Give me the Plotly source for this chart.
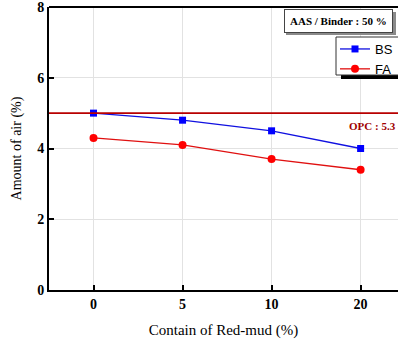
import plotly.graph_objects as go

categories = ["0", "5", "10", "20"]
bs_values = [5.0, 4.8, 4.5, 4.0]
fa_values = [4.3, 4.1, 3.7, 3.4]
opc_value = 5.0
y_ticks = [0, 2, 4, 6, 8]

W, H = 398, 347
ML, MT, MB, MR = 49, 7, 57, 0
pw, ph = W - ML - MR, H - MT - MB

def px(x):
    return (x - ML) / pw

def py(y):
    return (H - MB - y) / ph

serif = "Liberation Serif, Times New Roman, serif"
sans = "Liberation Sans, Arial, sans-serif"

fig = go.Figure()
fig.add_trace(go.Scatter(x=categories, y=bs_values, mode="lines+markers", name="BS",
                         line=dict(color="#1010E0", width=1.3),
                         marker=dict(symbol="square", size=7, color="#0000FF")))
fig.add_trace(go.Scatter(x=categories, y=fa_values, mode="lines+markers", name="FA",
                         line=dict(color="#E01010", width=1.3),
                         marker=dict(symbol="circle", size=8, color="#FF0000")))

fig.add_hline(y=opc_value, line=dict(color="#B80000", width=1.6))

# top border
fig.add_shape(type="line", xref="paper", yref="paper", x0=0, x1=1, y0=1, y1=1,
              line=dict(color="black", width=2))

# legend shadow + box
fig.add_shape(type="rect", xref="paper", yref="paper", x0=px(341), x1=1.02, y0=py(79), y1=py(42),
              line=dict(width=0), fillcolor="black", layer="above")
fig.add_shape(type="rect", xref="paper", yref="paper", x0=px(336), x1=1.02, y0=py(75), y1=py(37),
              line=dict(width=1, color="#333333"), fillcolor="white", layer="above")
# AAS box shadow
fig.add_shape(type="rect", xref="paper", yref="paper", x0=px(286), x1=px(396), y0=py(35), y1=py(12),
              line=dict(width=0), fillcolor="#8a8a8a", layer="above")

fig.add_annotation(xref="paper", yref="paper", x=px(338), y=py(20.5), xanchor="center", yanchor="middle",
                   text="<b>AAS / Binder : 50 %</b>", showarrow=False,
                   font=dict(family=serif, size=11, color="black"),
                   bgcolor="white", bordercolor="#444444", borderwidth=1, borderpad=5)
fig.add_annotation(xref="paper", yref="y", x=1.0, y=opc_value, xanchor="right", yanchor="top",
                   yshift=-5, text="<b>OPC : 5.3</b>", showarrow=False,
                   font=dict(family=serif, size=11, color="#A00000"))

fig.update_layout(
    width=W, height=H,
    margin=dict(l=ML, r=MR, t=MT, b=MB),
    paper_bgcolor="white", plot_bgcolor="white",
    showlegend=True,
    legend=dict(x=1.0, xanchor="right", y=py(34), yanchor="top",
                bgcolor="rgba(0,0,0,0)", borderwidth=0,
                font=dict(family=sans, size=13, color="black"),
                itemwidth=30, tracegroupgap=0),
    xaxis=dict(type="category", range=[-0.5, 3.42],
               showline=True, linecolor="black", linewidth=2,
               ticks="inside", ticklen=5, tickwidth=2, tickcolor="black",
               showgrid=True, gridcolor="#E2E2E2", gridwidth=1,
               tickfont=dict(family=serif, size=14, color="black"),
               title=dict(text="Contain of Red-mud (%)", font=dict(family=serif, size=15, color="black"), standoff=14),
               zeroline=False),
    yaxis=dict(range=[0, 8], tickvals=y_ticks, ticktext=[f"<b>{v}</b>" for v in y_ticks],
               showline=True, linecolor="black", linewidth=2,
               ticks="inside", ticklen=5, tickwidth=2, tickcolor="black",
               showgrid=True, gridcolor="#E2E2E2", gridwidth=1,
               tickfont=dict(family=serif, size=14, color="black"),
               ticklabeloverflow="allow",
               title=dict(text="Amount of air (%)", font=dict(family=serif, size=14, color="black"), standoff=12),
               zeroline=False),
)
fig.update_xaxes(ticktext=[f"<b>{c}</b>" for c in categories], tickvals=categories)

fig.write_html("out.html", config={"displayModeBar": False},
               post_script="document.body.style.margin='0';document.body.style.overflow='hidden';")
